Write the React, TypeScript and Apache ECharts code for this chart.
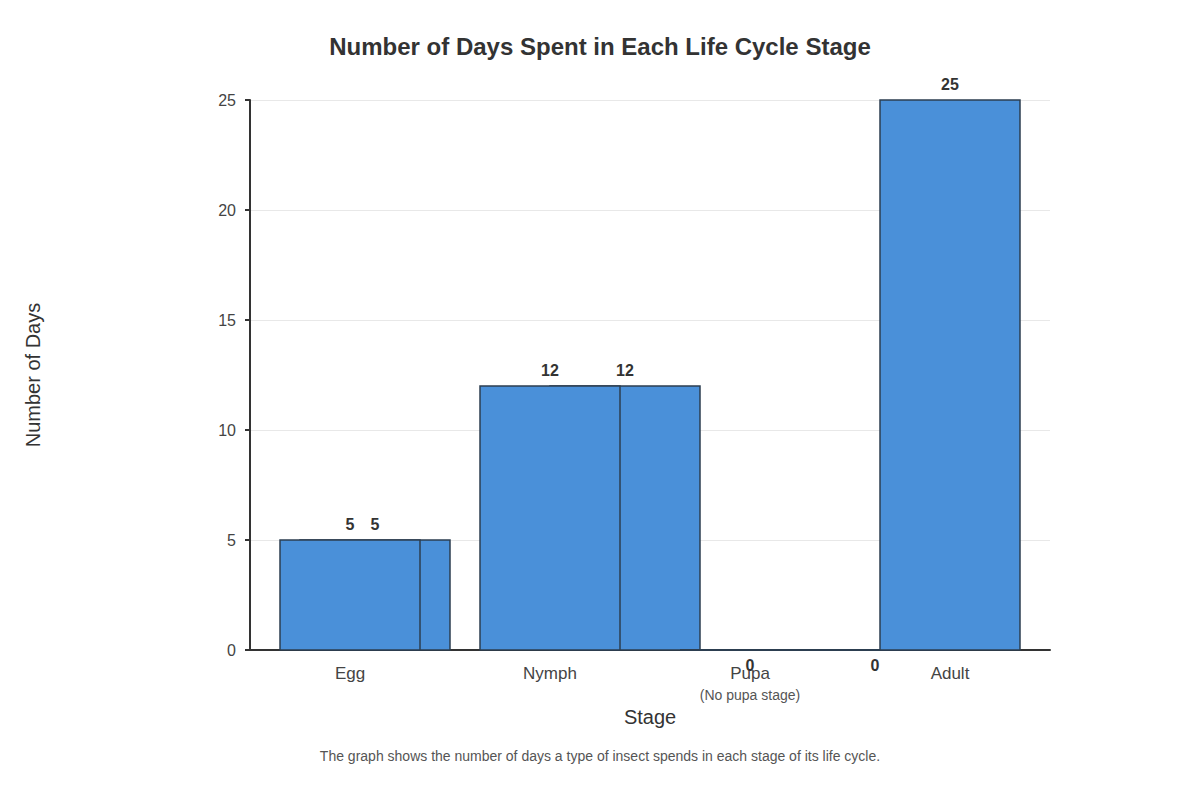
import * as echarts from 'echarts';
import { memo, useEffect, useRef } from 'react';

const stages = ['Egg', 'Nymph', 'Pupa', 'Adult'];
// main bars, one per stage
const days = [5, 12, 0, 25];
// second set of bars, drawn behind (x in category units)
const extraX = [0.125, 1.375, 2.625];
const extraDays = [5, 12, 0];
const yTicks = [0, 5, 10, 15, 20, 25];

const font = '"Liberation Sans", Arial, sans-serif';
const barColor = '#4a90d9';
const borderColor = '#2c3e50';

const makeRender = (halfWidth: number) => (params: any, api: any) => {
  const x = api.value(0);
  const v = api.value(1);
  const topLeft = api.coord([x - halfWidth, v]);
  const bottomRight = api.coord([x + halfWidth, 0]);
  const h = bottomRight[1] - topLeft[1];
  const children: any[] = [];
  if (h > 0) {
    children.push({
      type: 'rect',
      shape: { x: topLeft[0], y: topLeft[1], width: bottomRight[0] - topLeft[0], height: h },
      style: { fill: barColor, stroke: borderColor, lineWidth: 1.5 },
    });
  } else {
    children.push({
      type: 'line',
      shape: { x1: topLeft[0], y1: bottomRight[1], x2: bottomRight[0], y2: bottomRight[1] },
      style: { stroke: borderColor, lineWidth: 2 },
    });
  }
  children.push({
    type: 'text',
    x: api.coord([x, 0])[0],
    y: v > 0 ? topLeft[1] - 16 : bottomRight[1] + 15,
    style: {
      text: String(v),
      fill: '#333',
      font: `bold 16px ${font}`,
      align: 'center',
      verticalAlign: 'middle',
    },
  });
  return { type: 'group', children };
};

export default memo(function App() {
  const container = useRef<HTMLDivElement | null>(null);

  useEffect(() => {
    document.body.style.margin = '0';
    if (!container.current) return;
    const chart = echarts.init(container.current, null, { renderer: 'svg' });
    chart.setOption({
      animation: false,
      backgroundColor: '#fff',
      textStyle: { fontFamily: font },
      title: [
        {
          text: 'Number of Days Spent in Each Life Cycle Stage',
          left: 'center',
          top: 29,
          textStyle: { fontSize: 24, fontWeight: 'bold', color: '#333', fontFamily: font },
        },
        {
          text: 'The graph shows the number of days a type of insect spends in each stage of its life cycle.',
          left: 'center',
          top: 744,
          textStyle: { fontSize: 14, fontWeight: 'normal', color: '#555', fontFamily: font },
        },
      ],
      grid: { left: 250, right: 150, top: 100, bottom: 150 },
      xAxis: [
        {
          type: 'category',
          data: stages,
          name: 'Stage',
          nameLocation: 'middle',
          nameGap: 54,
          nameTextStyle: { fontSize: 20, color: '#333', fontFamily: font },
          axisLine: { lineStyle: { color: '#333', width: 2 } },
          axisTick: { alignWithLabel: true, length: 5, lineStyle: { color: '#333', width: 2 } },
          axisLabel: {
            interval: 0,
            fontSize: 17,
            color: '#444',
            margin: 15,
            fontFamily: font,
            formatter: (v: string) => (v === 'Pupa' ? 'Pupa\n{sub|(No pupa stage)}' : v),
            rich: {
              sub: { fontSize: 14, color: '#555', fontFamily: font, padding: [6, 0, 0, 0] },
            },
          },
          splitLine: { show: false },
        },
        {
          type: 'value',
          min: -0.5,
          max: 3.5,
          show: false,
          splitLine: { show: false },
        },
      ],
      yAxis: {
        type: 'value',
        min: yTicks[0],
        max: yTicks[yTicks.length - 1],
        interval: 5,
        name: 'Number of Days',
        nameLocation: 'middle',
        nameGap: 207,
        nameTextStyle: { fontSize: 20, color: '#333', fontFamily: font },
        axisLine: { show: true, onZero: false, lineStyle: { color: '#333', width: 2 } },
        axisTick: { show: true, length: 5, lineStyle: { color: '#333', width: 2 } },
        axisLabel: { fontSize: 16, color: '#444', margin: 14, fontFamily: font },
        splitLine: { lineStyle: { color: '#e8e8e8', width: 1 } },
      },
      series: [
        {
          type: 'custom',
          xAxisIndex: 1,
          yAxisIndex: 0,
          renderItem: makeRender(0.375),
          encode: { x: 0, y: 1 },
          data: extraX.map((x, i) => [x, extraDays[i]]),
        },
        {
          type: 'custom',
          xAxisIndex: 1,
          yAxisIndex: 0,
          renderItem: makeRender(0.35),
          encode: { x: 0, y: 1 },
          data: days.map((d, i) => [i, d]),
        },
      ],
    } as echarts.EChartsOption);
    return () => {
      chart.dispose();
    };
  }, []);

  return <div ref={container} style={{ width: '1200px', height: '800px' }} />;
});
